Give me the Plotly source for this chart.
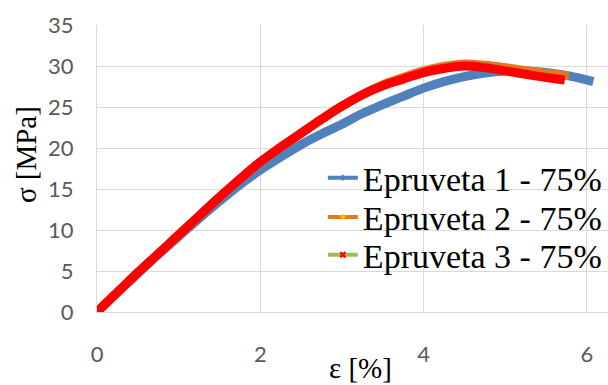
import plotly.graph_objects as go

# Epruveta 1 - 75% (blue)
x1 = [0, 0.25, 0.5, 0.75, 1.0, 1.25, 1.5, 1.75, 2.0, 2.25, 2.5, 2.75, 3.0, 3.25, 3.5, 3.75, 4.0,
      4.25, 4.5, 4.75, 5.0, 5.25, 5.5, 5.75, 6.08]
y1 = [0, 2.4, 4.7, 7.0, 9.2, 11.4, 13.5, 15.5, 17.3, 18.9, 20.4, 21.7, 22.9, 24.2, 25.3, 26.3, 27.3,
      28.1, 28.7, 29.15, 29.4, 29.4, 29.2, 28.85, 28.1]

# Epruveta 2 - 75% (orange)
x2 = [0, 0.25, 0.5, 0.75, 1.0, 1.25, 1.5, 1.75, 2.0, 2.25, 2.5, 2.75, 3.0, 3.25, 3.5, 3.75, 4.0,
      4.25, 4.5, 4.75, 5.0, 5.25, 5.5, 5.78]
y2 = [0, 2.4, 4.8, 7.1, 9.4, 11.7, 14.0, 16.2, 18.3, 20.1, 21.8, 23.5, 25.1, 26.5, 27.7, 28.6, 29.4,
      29.95, 30.25, 30.1, 29.8, 29.45, 29.1, 28.8]

# Epruveta 3 - 75% (red markers)
x3 = [0, 0.25, 0.5, 0.75, 1.0, 1.25, 1.5, 1.75, 2.0, 2.25, 2.5, 2.75, 3.0, 3.25, 3.5, 3.75, 4.0,
      4.25, 4.5, 4.75, 5.0, 5.25, 5.5, 5.73]
y3 = [0, 2.4, 4.8, 7.1, 9.4, 11.7, 14.0, 16.2, 18.3, 20.1, 21.8, 23.5, 25.1, 26.5, 27.6, 28.4, 29.2,
      29.7, 30.0, 29.8, 29.4, 29.0, 28.6, 28.3]

names = ["Epruveta 1 - 75%", "Epruveta 2 - 75%", "Epruveta 3 - 75%"]
x_ticks = [0, 2, 4, 6]
y_ticks = [0, 5, 10, 15, 20, 25, 30, 35]

fig = go.Figure()
curve_colors = ["#4F81BD", "#E8761E", "#FF0000"]
for xs, ys, c in [(x1, y1, curve_colors[0]), (x2, y2, curve_colors[1]), (x3, y3, curve_colors[2])]:
    fig.add_trace(go.Scatter(x=xs, y=ys, mode="lines", line=dict(color=c, width=9, shape="spline"),
                             showlegend=False, cliponaxis=False, hoverinfo="skip"))

legend_styles = [
    dict(line=dict(color="#4F81BD", width=4), marker=dict(color="#4F81BD", size=5, symbol="diamond")),
    dict(line=dict(color="#E8761E", width=4), marker=dict(color="#FFC000", size=6, symbol="star")),
    dict(line=dict(color="#9BBB59", width=4), marker=dict(color="#FF0000", size=6, symbol="x")),
]
legend_ids = ["legend", "legend2", "legend3"]
for n, st, lg in zip(names, legend_styles, legend_ids):
    fig.add_trace(go.Scatter(x=[None], y=[None], mode="lines+markers", name=n, legend=lg, **st))

leg_common = dict(xanchor="left", yanchor="middle", bgcolor="rgba(0,0,0,0)",
                  font=dict(family="Liberation Serif", size=34, color="black"),
                  tracegroupgap=0, itemwidth=30)
fig.update_layout(
    width=608, height=385,
    margin=dict(l=97, r=0, t=25, b=73),
    paper_bgcolor="white", plot_bgcolor="white",
    font=dict(family="Lato", color="#595959", size=22),
    legend=dict(x=0.442, y=0.466, **leg_common),
    legend2=dict(x=0.442, y=0.330, **leg_common),
    legend3=dict(x=0.442, y=0.198, **leg_common),
    showlegend=True,
    shapes=[dict(type="rect", xref="paper", yref="paper", x0=0.387, x1=1.0, y0=0.145, y1=0.585,
                 fillcolor="white", line=dict(width=0), layer="between")],
    annotations=[
        dict(text="σ [MPa]", xref="paper", yref="paper", x=-0.139, y=0.55, textangle=-90,
             showarrow=False, font=dict(family="Liberation Serif", size=29, color="black"),
             xanchor="center", yanchor="middle"),
        dict(text="ε [%]", xref="paper", yref="paper", x=0.515, y=-0.196,
             showarrow=False, font=dict(family="Liberation Serif", size=29, color="black"),
             xanchor="center", yanchor="middle"),
    ],
)
fig.update_xaxes(range=[0, 6.26], tickvals=x_ticks, ticktext=[str(v) for v in x_ticks],
                 showgrid=True, gridcolor="#D9D9D9", gridwidth=1, zeroline=False,
                 showline=True, linecolor="#D9D9D9", linewidth=1, ticks="",
                 ticklabelstandoff=23)
fig.update_yaxes(range=[0, 35], tickvals=y_ticks, ticktext=[str(v) for v in y_ticks],
                 showgrid=True, gridcolor="#D9D9D9", gridwidth=1, zeroline=False,
                 showline=True, linecolor="#D9D9D9", linewidth=1, ticks="",
                 ticklabelstandoff=18)

fig.write_html("out.html")
